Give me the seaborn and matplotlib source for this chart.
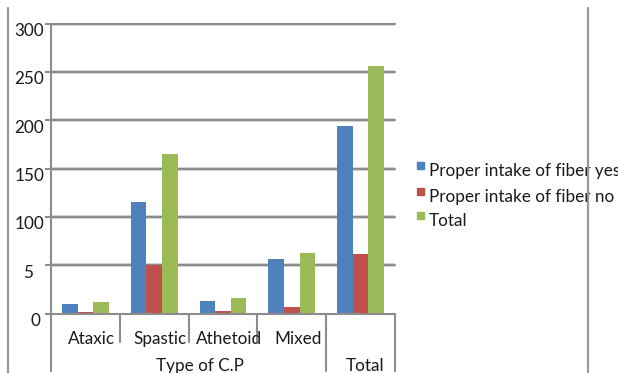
import matplotlib
matplotlib.use("Agg")
import matplotlib.pyplot as plt
import matplotlib.transforms as mtransforms
from matplotlib.lines import Line2D
import seaborn as sns
import pandas as pd

# Data
categories = ["Ataxic", "Spastic", "Athetoid", "Mixed", "Total"]
fiber_yes = [10, 115, 13, 56, 194]
fiber_no = [2, 50, 3, 7, 62]
fiber_total = [12, 165, 16, 63, 256]
series_names = ["Proper intake of fiber yes", "Proper intake of fiber no", "Total"]
y_ticks = [0, 50, 100, 150, 200, 250, 300]
y_tick_labels = ["0", "5", "100", "150", "200", "250", "300"]
group_label = "Type of C.P"

colors = ["#4F81BD", "#C0504D", "#9BBB59"]
grid_color = "#8C8C8C"
text_color = "#1a1a1a"
fs = 12.3

rows = []
for name, vals in zip(series_names, [fiber_yes, fiber_no, fiber_total]):
    for cat, v in zip(categories, vals):
        rows.append({"category": cat, "series": name, "value": v})
df = pd.DataFrame(rows)

sns.set_theme(style="white")
plt.rcParams["font.family"] = ["Lato", "DejaVu Sans"]

W, H = 618, 373
fig = plt.figure(figsize=(W / 100, H / 100), dpi=100)
ax_left, ax_right, ax_top, ax_bottom = 51, 395, 23.5, 313.5
ax = fig.add_axes([ax_left / W, 1 - ax_bottom / H,
                   (ax_right - ax_left) / W, (ax_bottom - ax_top) / H])

sns.barplot(data=df, x="category", y="value", hue="series", order=categories,
            hue_order=series_names, palette=colors, width=0.68, saturation=1,
            ax=ax, legend=False, linewidth=0)

ax.set_ylim(0, 300)
ax.set_xlim(-0.5, len(categories) - 0.5)
ax.set_yticks(y_ticks)
ax.set_yticklabels(y_tick_labels, fontsize=fs, color=text_color)
ax.set_xticks([])
ax.set_xlabel("")
ax.set_ylabel("")
ax.tick_params(axis="y", length=4, width=1.5, color=grid_color, pad=1, left=True)

# Nudge the value labels slightly below their ticks
label_dx = {"0": -4, "5": -11}
for lab in ax.get_yticklabels():
    dx = label_dx.get(lab.get_text(), 0)
    off = mtransforms.ScaledTranslation(dx / 100, -6 / 100, fig.dpi_scale_trans)
    lab.set_transform(lab.get_transform() + off)

# Horizontal gridlines with a soft shadow
ytr = ax.get_yaxis_transform()
for t in y_ticks[1:]:
    ax.axhline(t, color="#DADADA", lw=3, zorder=0.4)
    ax.plot([0, 1], [t, t], color=grid_color, lw=1.5, zorder=0.5,
            transform=ytr, clip_on=False)
ax.yaxis.grid(False)

for side in ["top", "right"]:
    ax.spines[side].set_visible(False)
for side in ["left", "bottom"]:
    ax.spines[side].set_color(grid_color)
    ax.spines[side].set_linewidth(1.5)

# Multi-level category axis: separators and labels
bt = mtransforms.blended_transform_factory(ax.transData, fig.transFigure)
def fy(px):
    return 1 - px / H
def fx(px):
    return px / W

short_seps = [0.5, 1.5, 2.5]
long_seps = [-0.5, 3.5, 4.5]
for x in short_seps:
    fig.add_artist(Line2D([x, x], [fy(313.5), fy(342)], transform=bt,
                          color=grid_color, lw=1.5))
for x in long_seps:
    fig.add_artist(Line2D([x, x], [fy(313.5), fy(371)], transform=bt,
                          color=grid_color, lw=1.5))

shift = mtransforms.ScaledTranslation(6 / 100, 0, fig.dpi_scale_trans)
for i, cat in enumerate(categories[:-1]):
    fig.text(i, fy(339), cat, transform=bt + shift, ha="center", va="center",
             fontsize=fs, color=text_color)
fig.text(fx(200), fy(366), group_label, ha="center", va="center",
         fontsize=fs, color=text_color)
fig.text(fx(365), fy(366), categories[-1], ha="center", va="center",
         fontsize=fs, color=text_color)

# Legend
leg_y = [171, 197, 221]
for name, c, y in zip(series_names, colors, leg_y):
    fig.patches.append(plt.Rectangle((fx(417), fy(y - 2)), 7 / W, 7 / H,
                                     transform=fig.transFigure, color=c))
    fig.text(fx(429), fy(y), name, ha="left", va="center",
             fontsize=fs, color=text_color)

# Outer frame lines
fig.add_artist(Line2D([fx(8), fx(8)], [fy(8), 0], transform=fig.transFigure,
                      color="#999999", lw=1.6))
fig.add_artist(Line2D([fx(587.5), fx(587.5)], [fy(8), 0], transform=fig.transFigure,
                      color="#999999", lw=1.6, zorder=5))

fig.savefig("out.png", dpi=100)
